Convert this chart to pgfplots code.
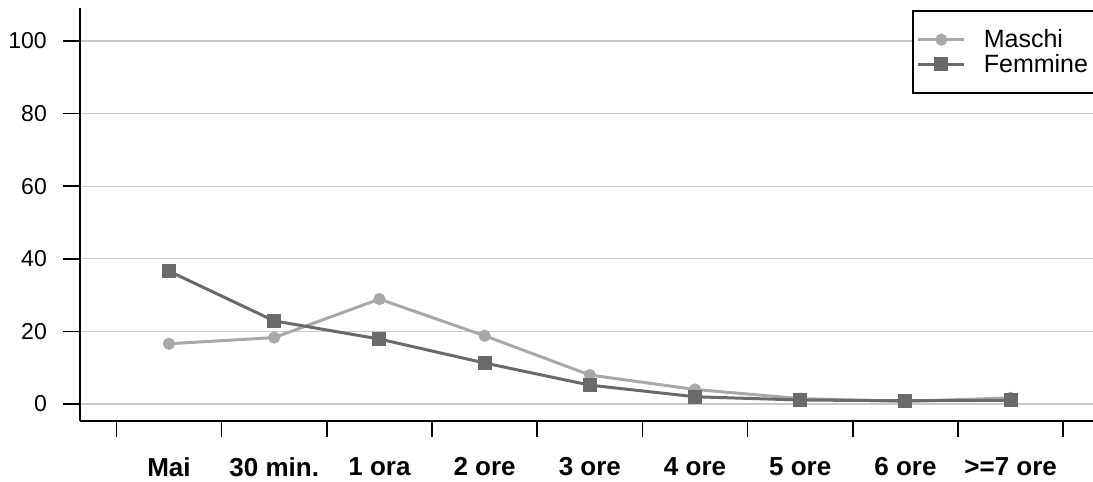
\documentclass[border=0pt]{standalone}
\usepackage{pgfplots}
\pgfplotsset{compat=1.18}
\usepackage{fontspec}
\setmainfont{Liberation Sans}
\definecolor{mgray}{HTML}{A8A8A8}
\definecolor{fgray}{HTML}{6A6A6A}
\definecolor{gridc}{HTML}{C8C8C8}
\begin{document}
\begin{tikzpicture}
\begin{axis}[
  at={(0pt,0pt)}, anchor=south west,
  width=1013pt, height=413pt, scale only axis,
  xmin=-0.846, xmax=8.783,
  ymin=-4.68, ymax=109.1,
  axis x line*=bottom, axis y line*=left,
  axis line style={line width=1.6pt, black},
  tick align=outside,
  xtick={0,...,8},
  xticklabels={Mai, 30 min., 1 ora, 2 ore, 3 ore, 4 ore, 5 ore, 6 ore, {>=7 ore}},
  major x tick style={draw=none},
  minor xtick={-0.5,0.5,1.5,2.5,3.5,4.5,5.5,6.5,7.5,8.5},
  minor x tick style={line width=1.6pt, black},
  minor tick length=16pt,
  major tick length=17pt,
  ytick={0,20,40,60,80,100},
  yticklabels={0,20,40,60,80,100},
  y tick style={line width=1.6pt, black},
  ymajorgrids,
  grid style={gridc, line width=1.2pt},
  yticklabel style={font=\fontsize{23}{27}\selectfont, anchor=east, inner xsep=0pt, xshift=-16pt},
  xticklabel style={font=\bfseries\fontsize{26}{30}\selectfont, yshift=-16pt},
  legend style={at={(0.8213,0.995)}, anchor=north west, draw=black, line width=1.6pt,
    fill=white, font=\fontsize{25}{29}\selectfont, inner xsep=4pt, inner ysep=17pt,
    row sep=1pt},
  legend cell align=left,
  legend image code/.code={\draw[mark repeat=2,mark phase=2] plot coordinates {(0pt,0pt) (23pt,0pt) (46pt,0pt)}; \path (62pt,0pt);},
]
\addplot[mgray, line width=3pt, mark=*, mark size=4.5pt, mark options={solid, fill=mgray}]
  coordinates {(0,16.6) (1,18.3) (2,28.9) (3,18.8) (4,8.0) (5,4.0) (6,1.5) (7,0.7) (8,1.7)};
\addlegendentry{Maschi}
\addplot[fgray, line width=3pt, mark=square*, mark size=5.5pt, mark options={solid, fill=fgray}]
  coordinates {(0,36.6) (1,22.9) (2,17.9) (3,11.3) (4,5.2) (5,2.0) (6,1.1) (7,0.9) (8,1.0)};
\addlegendentry{Femmine}
\end{axis}
\pgfresetboundingbox
\path[use as bounding box] (-80pt,-61pt) rectangle (1013pt,421pt);
\end{tikzpicture}
\end{document}
